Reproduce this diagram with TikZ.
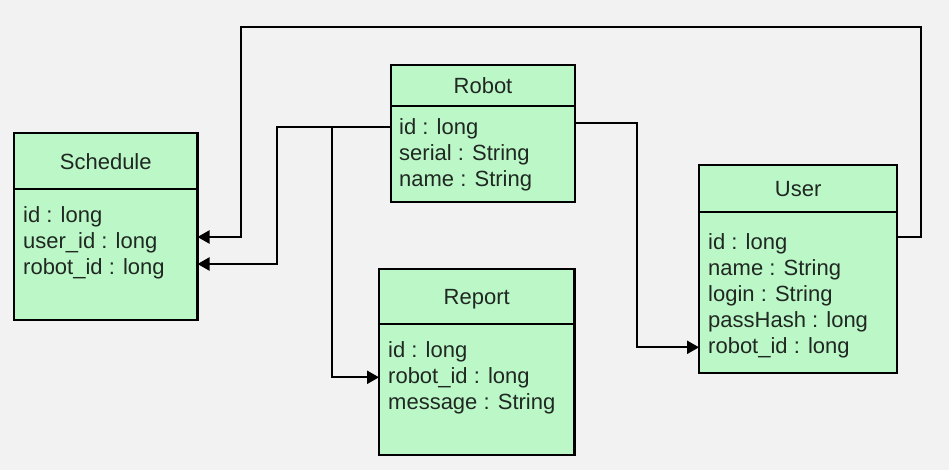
\documentclass[tikz,border=0pt]{standalone}
\usepackage{fontspec}
\setmainfont{Liberation Sans}
\usetikzlibrary{positioning,calc,arrows.meta}
\definecolor{classgreen}{RGB}{188,247,200}
\definecolor{canvas}{RGB}{242,242,242}
\definecolor{inkgray}{RGB}{32,40,34}
\tikzset{
  classhead/.style={draw, line width=2.2pt, fill=classgreen, inner sep=0pt, outer sep=0pt, anchor=north west, text=inkgray, font=\fontsize{22}{26}\selectfont, text height=15.8pt, text depth=0pt},
  classbody/.style={draw, line width=2.2pt, fill=classgreen, inner sep=0pt, outer sep=0pt},
  attrs/.style={anchor=north west, align=left, inner sep=0pt, text=inkgray, font=\fontsize{22}{26}\selectfont},
  assoc/.style={line width=2.2pt, -{Triangle[length=12pt,width=13pt]}}
}
\begin{document}
\begin{tikzpicture}[x=1pt,y=-1pt]
\fill[canvas] (0,0) rectangle (949,470);
\useasboundingbox (0,0) rectangle (949,470);
\node[classhead, minimum width=183.5pt, minimum height=55.7pt] (Schedule) at (14,133.3) {Schedule};
\node[classbody, minimum width=183.5pt, minimum height=131pt, below=0pt of Schedule] (ScheduleBody) {};
\node[attrs] (ScheduleAttrs) at ($(ScheduleBody.north west)+(9,17)$) {id : long\\user\_id : long\\robot\_id : long};
\node[classhead, minimum width=184pt, minimum height=40.7pt] (Robot) at (391,65) {Robot};
\node[classbody, minimum width=184pt, minimum height=96.3pt, below=0pt of Robot] (RobotBody) {};
\node[attrs] (RobotAttrs) at ($(RobotBody.north west)+(8,12.3)$) {id : long\\serial : String\\name : String};
\node[classhead, minimum width=195.5pt, minimum height=55pt] (Report) at (379,269.3) {Report};
\node[classbody, minimum width=195.5pt, minimum height=130.7pt, below=0pt of Report] (ReportBody) {};
\node[attrs] (ReportAttrs) at ($(ReportBody.north west)+(9,17.4)$) {id : long\\robot\_id : long\\message : String};
\node[classhead, minimum width=198.3pt, minimum height=47.6pt] (User) at (699,164.7) {User};
\node[classbody, minimum width=198.3pt, minimum height=161pt, below=0pt of User] (UserBody) {};
\node[attrs] (UserAttrs) at ($(UserBody.north west)+(9,21)$) {id : long\\name : String\\login : String\\passHash : long\\robot\_id : long};
\draw[assoc] ($(UserBody.north east)+(0,25)$) -- ++(24,0) |- (241,27) |- ($(ScheduleBody.north east)+(0,48)$);
\draw[assoc] ($(RobotBody.north west)+(0,21)$) -- ++(-114,0) |- ($(ScheduleBody.north east)+(0,75)$);
\draw[assoc] ($(RobotBody.north west)+(0,21)$) -- ++(-59,0) |- ($(ReportBody.north west)+(0,53)$);
\draw[assoc] ($(RobotBody.north east)+(0,17.5)$) -- ++(62,0) |- ($(UserBody.north west)+(0,135)$);
\end{tikzpicture}
\end{document}
